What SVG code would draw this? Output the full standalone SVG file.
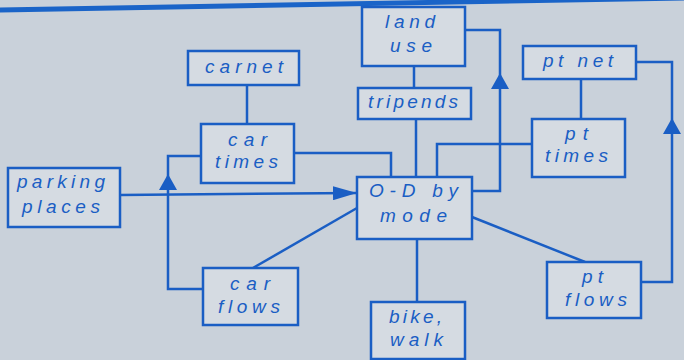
<svg xmlns="http://www.w3.org/2000/svg" width="684" height="360" viewBox="0 0 684 360">
<style>
.box rect{fill:#d5dbe2;stroke:#1a5ec4;stroke-width:2.5}
.box text{font-family:"Liberation Sans",Arial,sans-serif;font-style:italic;font-size:19px;fill:#1a5ec4}
#connectors path{fill:none;stroke:#1a5ec4;stroke-width:2.5}
</style>
<defs>
<marker id="up" viewBox="0 0 16 18" refX="16" refY="9" markerWidth="16" markerHeight="18" markerUnits="userSpaceOnUse" orient="auto"><path d="M0,0 L16,9 L0,18 z" fill="#1a5ec4"/></marker>
<marker id="right" viewBox="0 0 24 14" refX="24" refY="7" markerWidth="24" markerHeight="14" markerUnits="userSpaceOnUse" orient="auto"><path d="M0,0 L24,7 L0,14 z" fill="#1a5ec4"/></marker>
</defs>
<rect width="684" height="360" fill="#c9d1da"/>
<path d="M0,10 L684,-2" stroke="#1a64c8" stroke-width="5"/>
<g id="connectors">
<path d="M414,66 V88"/>
<path d="M416,119 V177"/>
<path d="M247,85 V124"/>
<path d="M294,153 H391 V177"/>
<path d="M581,79 V119"/>
<path d="M532,144 H437 V177"/>
<path d="M472,191 H500 V73" marker-end="url(#up)"/>
<path d="M500,73 V30 H465"/>
<path d="M120,195 L357,193" marker-end="url(#right)"/>
<path d="M203,289 H168 V174" marker-end="url(#up)"/>
<path d="M168,174 V156 H201"/>
<path d="M253,268 L357,208"/>
<path d="M585,262 L472,217"/>
<path d="M417,239 V302"/>
<path d="M641,282 H672 V118" marker-end="url(#up)"/>
<path d="M672,118 V62 H636"/>
</g>
<g id="land_use" class="box"><rect x="362" y="7" width="103" height="59"/><text x="385" y="28" textLength="50" lengthAdjust="spacing">land</text><text x="390" y="52" textLength="42" lengthAdjust="spacing">use</text></g>
<g id="tripends" class="box"><rect x="358" y="88" width="113" height="31"/><text x="368" y="108" textLength="90" lengthAdjust="spacing">tripends</text></g>
<g id="carnet" class="box"><rect x="188" y="51" width="111" height="34"/><text x="205" y="73" textLength="78" lengthAdjust="spacing">carnet</text></g>
<g id="car_times" class="box"><rect x="201" y="124" width="93" height="59"/><text x="228" y="146" textLength="39" lengthAdjust="spacing">car</text><text x="215" y="168" textLength="63" lengthAdjust="spacing">times</text></g>
<g id="pt_net" class="box"><rect x="523" y="46" width="113" height="33"/><text x="543" y="67" textLength="70" lengthAdjust="spacing">pt net</text></g>
<g id="pt_times" class="box"><rect x="532" y="119" width="93" height="58"/><text x="565" y="140" textLength="23" lengthAdjust="spacing">pt</text><text x="545" y="162" textLength="63" lengthAdjust="spacing">times</text></g>
<g id="parking_places" class="box"><rect x="8" y="168" width="112" height="59"/><text x="17" y="188" textLength="88" lengthAdjust="spacing">parking</text><text x="22" y="213" textLength="78" lengthAdjust="spacing">places</text></g>
<g id="od_by_mode" class="box"><rect x="357" y="177" width="115" height="62"/><text x="369" y="197" textLength="89" lengthAdjust="spacing">O-D by</text><text x="380" y="222" textLength="67" lengthAdjust="spacing">mode</text></g>
<g id="car_flows" class="box"><rect x="203" y="268" width="95" height="57"/><text x="230" y="290" textLength="40" lengthAdjust="spacing">car</text><text x="218" y="313" textLength="62" lengthAdjust="spacing">flows</text></g>
<g id="bike_walk" class="box"><rect x="371" y="302" width="94" height="57"/><text x="389" y="323" textLength="53" lengthAdjust="spacing">bike,</text><text x="390" y="346" textLength="53" lengthAdjust="spacing">walk</text></g>
<g id="pt_flows" class="box"><rect x="547" y="262" width="94" height="56"/><text x="582" y="283" textLength="21" lengthAdjust="spacing">pt</text><text x="565" y="306" textLength="62" lengthAdjust="spacing">flows</text></g>
</svg>
